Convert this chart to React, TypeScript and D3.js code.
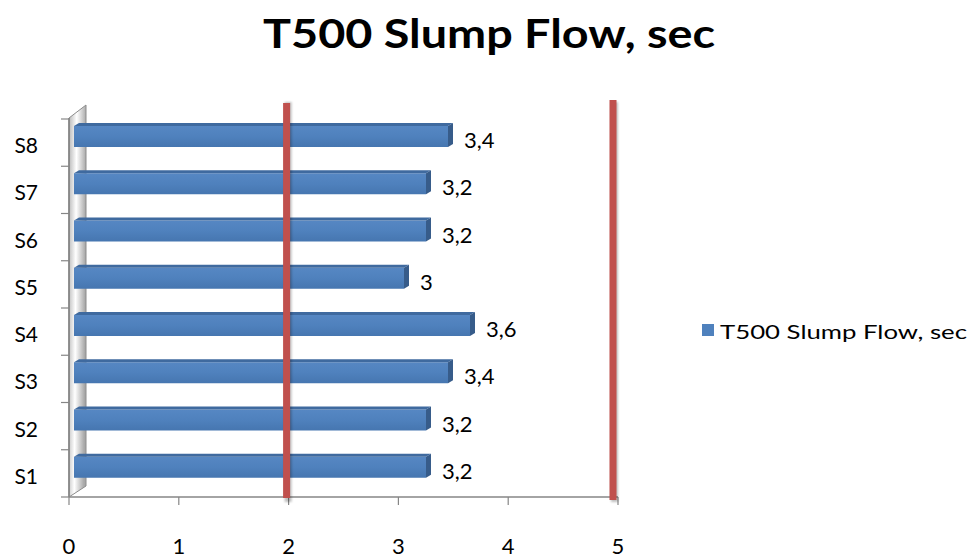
import React from "react";
import * as d3 from "d3";

const categories = ["S1", "S2", "S3", "S4", "S5", "S6", "S7", "S8"];
const values = [3.2, 3.2, 3.4, 3.6, 3, 3.2, 3.2, 3.4];
const xTicks = [0, 1, 2, 3, 4, 5];
const limitLines = [2, 5];
const title = "T500 Slump Flow, sec";
const seriesName = "T500 Slump Flow, sec";

const W = 979;
const H = 557;
const FONT = "Lato, 'Open Sans', sans-serif";

const fmt = d3.formatLocale({ decimal: ",", thousands: ".", grouping: [3], currency: ["", ""] }).format("~g");

export default function App() {
  const xAxis = d3.scaleLinear().domain([0, 5]).range([69, 618]);
  const xBar = d3.scaleLinear().domain([0, 5]).range([74, 624]);
  const xLimit = d3.scaleLinear().domain([0, 5]).range([69, 613]);
  const y = d3
    .scaleBand<string>()
    .domain([...categories].reverse())
    .range([119, 497])
    .padding(0);
  const bw = y.bandwidth();
  const bounds = d3.range(categories.length + 1).map((i) => 119 + i * bw);
  const depthX = 5;
  const depthY = -3;
  const barH = 21;

  return (
    <svg width={W} height={H} style={{ position: "absolute", left: 0, top: 0, display: "block" }}>
      <defs>
        <linearGradient id="wallGrad" x1="0" y1="0" x2="1" y2="0.15">
          <stop offset="0" stopColor="#b8b8b8" />
          <stop offset="0.45" stopColor="#ffffff" />
          <stop offset="1" stopColor="#a8a8a8" />
        </linearGradient>
        <linearGradient id="barGrad" x1="0" y1="0" x2="0" y2="1">
          <stop offset="0" stopColor="#5687c3" />
          <stop offset="0.5" stopColor="#4f81bd" />
          <stop offset="1" stopColor="#4676b0" />
        </linearGradient>
        <filter id="shadow" x="-50%" y="-5%" width="200%" height="110%">
          <feGaussianBlur stdDeviation="1" />
        </filter>
      </defs>
      <rect width={W} height={H} fill="#ffffff" />

      {/* Title */}
      <text
        x={263}
        y={48}
        textLength={452}
        lengthAdjust="spacingAndGlyphs"
        fontFamily={FONT}
        fontWeight="bold"
        fontSize={40}
        fill="#000"
      >
        {title}
      </text>

      {/* Side wall */}
      <polygon points="69,118 86,105 86,486 69,497" fill="url(#wallGrad)" stroke="#8c8c8c" strokeWidth={1} />
      <line x1={69} y1={118} x2={69} y2={497} stroke="#7f7f7f" strokeWidth={1.5} />

      {/* Left ticks */}
      {bounds.map((b, i) => (
        <line key={"lt" + i} x1={61} y1={b} x2={69} y2={b} stroke="#868686" strokeWidth={1.2} />
      ))}

      {/* Bottom axis */}
      <line x1={xAxis(0)} y1={497} x2={xAxis(5)} y2={497} stroke="#868686" strokeWidth={1.5} />
      {xTicks.map((t) => (
        <g key={"xt" + t}>
          <line x1={xAxis(t)} y1={497} x2={xAxis(t)} y2={505} stroke="#868686" strokeWidth={1.2} />
          <text x={xAxis(t)} y={545} textAnchor="middle" dominantBaseline="central" fontFamily={FONT} fontSize={22} fill="#000">
            {t}
          </text>
        </g>
      ))}

      {/* Bars */}
      {categories.map((c, i) => {
        const v = values[i];
        const y0 = (y(c) as number) + 7;
        const x0 = xBar(0);
        const x1 = xBar(v);
        return (
          <g key={"bar" + c}>
            <rect x={x0} y={y0} width={x1 - x0} height={barH} fill="url(#barGrad)" />
            <polygon
              points={`${x0},${y0} ${x1},${y0} ${x1 + depthX},${y0 + depthY} ${x0 + depthX},${y0 + depthY}`}
              fill="#3f6a9f"
            />
            <polygon
              points={`${x1},${y0} ${x1 + depthX},${y0 + depthY} ${x1 + depthX},${y0 + barH + depthY} ${x1},${y0 + barH}`}
              fill="#375c8a"
            />
            <text
              x={x1 + depthX + 11}
              y={y0 + barH / 2 + 3}
              dominantBaseline="central"
              fontFamily={FONT}
              fontSize={22}
              fill="#000"
            >
              {fmt(v)}
            </text>
            <text
              x={38}
              y={(y(c) as number) + bw / 2 + 2}
              textAnchor="end"
              dominantBaseline="central"
              fontFamily={FONT}
              fontSize={21}
              fill="#000"
            >
              {c}
            </text>
          </g>
        );
      })}

      {/* Limit lines */}
      {limitLines.map((l) => (
        <g key={"lim" + l}>
          <rect x={xLimit(l) - 3.5 + 1.5} y={102} width={7} height={400} fill="#000" opacity={0.25} filter="url(#shadow)" />
          <rect x={xLimit(l) - 3.5} y={l === 5 ? 100 : 103} width={7} height={l === 5 ? 400 : 395} fill="#c0504d" />
        </g>
      ))}

      {/* Legend */}
      <rect x={702} y={324} width={12} height={12} fill="#4f81bd" />
      <text
        x={720}
        y={331}
        textLength={247}
        lengthAdjust="spacingAndGlyphs"
        dominantBaseline="central"
        fontFamily={FONT}
        fontSize={20}
        fill="#000"
      >
        {seriesName}
      </text>
    </svg>
  );
}
